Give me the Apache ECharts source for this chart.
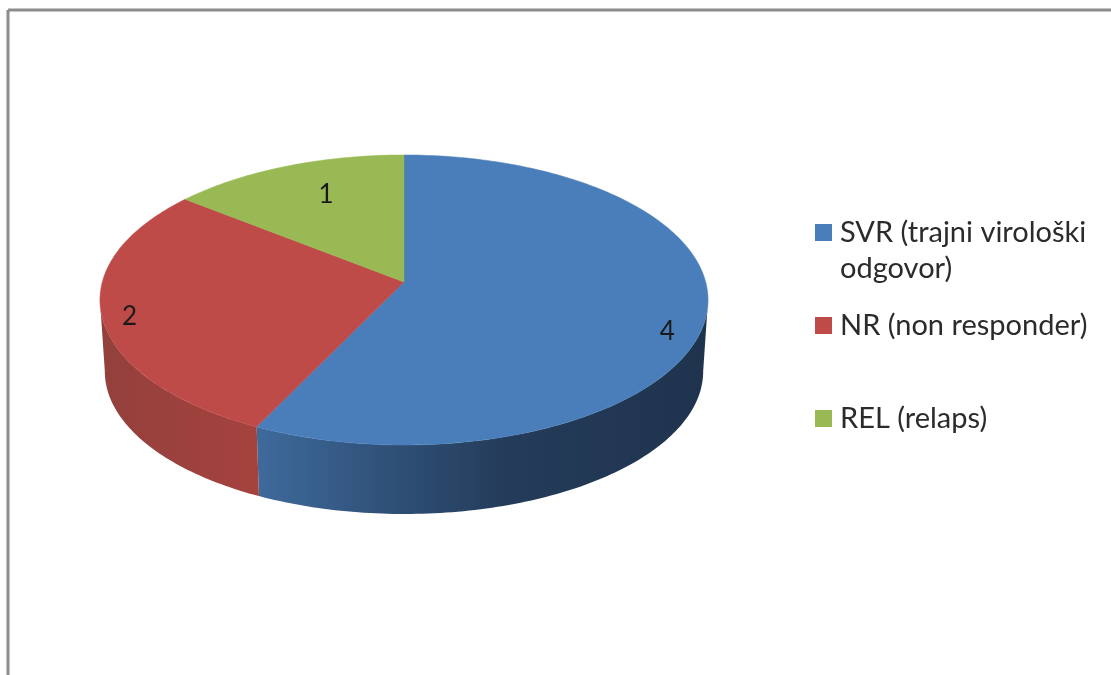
<!DOCTYPE html>
<html>
<head>
<meta charset="utf-8">
<style>
  html, body { margin: 0; background: #fff; }
  #chart { width: 1111px; height: 675px; }
</style>
<script src="https://cdn.jsdelivr.net/npm/echarts@6/dist/echarts.min.js"></script>
</head>
<body>
<div id="chart"></div>
<script>
var categories = ['SVR (trajni virološki odgovor)', 'NR (non responder)', 'REL (relaps)']
var sliceValues = [4, 2, 1]
var legendFirstLines = ['SVR (trajni virološki', 'NR (non responder)', 'REL (relaps)']
var legendSecondLine = 'odgovor)'

var topColors = ['#4a7ebb', '#be4b48', '#98b954']
var wallStops = [
  [{ offset: 0, color: '#3f6a9c' }, { offset: 0.3, color: '#2f5077' }, { offset: 0.55, color: '#243c5a' }, { offset: 1, color: '#1f334d' }],
  [{ offset: 0, color: '#93403c' }, { offset: 1, color: '#a5423e' }],
  [{ offset: 0, color: '#7d9a45' }, { offset: 1, color: '#7d9a45' }]
]
var legendTops = [218, 311, 404]
// where the value label sits: turn from top (deg) and share of the radius
var labelAngles = [111.6, 255, 337.2]
var labelRadius = [0.9, 0.914, 0.722]

// tilted disc, perspective from the front
var cx = 404
var cy = 282
var radiusX = 301.7
var radiusY = 142.8
var tilt = 0.124
var wallDrop = 71.6
var wallScale = 0.984

var total = sliceValues.reduce(function (a, b) { return a + b }, 0)
var sliceStarts = sliceValues.map(function (v, i) {
  return sliceValues.slice(0, i).reduce(function (a, b) { return a + b }, 0)
})

function project(deg, share) {
  var rad = deg * Math.PI / 180
  var u = Math.sin(rad) * share
  var v = -Math.cos(rad) * share
  var w = 1 - tilt * v
  return [cx + radiusX * u / w, cy + radiusY * v / w]
}

function arc(from, to) {
  var pts = []
  var steps = Math.max(2, Math.ceil(Math.abs(to - from)))
  for (var i = 0; i <= steps; i++) {
    pts.push(project(from + (to - from) * i / steps, 1))
  }
  return pts
}

function renderSlice(params, api) {
  var idx = params.seriesIndex
  var value = api.value(0)
  var from = api.value(1) / total * 360
  var to = from + value / total * 360
  var children = []

  // side wall only where the rim faces the viewer
  var edge = Math.acos(-tilt) * 180 / Math.PI
  var wallFrom = Math.max(from, edge)
  var wallTo = Math.min(to, 360 - edge)
  if (wallTo > wallFrom) {
    var rim = arc(wallFrom, wallTo)
    var lower = rim.map(function (p) {
      return [cx + (p[0] - cx) * wallScale, cy + wallDrop + (p[1] - cy) * wallScale]
    }).reverse()
    var xs = rim.map(function (p) { return p[0] })
    children.push({
      type: 'polygon',
      shape: { points: rim.concat(lower) },
      style: {
        fill: new echarts.graphic.LinearGradient(Math.min.apply(null, xs), 0, Math.max.apply(null, xs), 0, wallStops[idx], true)
      }
    })
  }

  children.push({
    type: 'polygon',
    shape: { points: [[cx, cy]].concat(arc(from, to)) },
    style: { fill: topColors[idx], stroke: topColors[idx], lineWidth: 0.5 }
  })

  var labelAt = project(labelAngles[idx], labelRadius[idx])
  children.push({
    type: 'text',
    x: labelAt[0],
    y: labelAt[1],
    style: {
      text: String(value),
      fill: '#1a1a1a',
      font: '26px Lato, "Noto Sans", sans-serif',
      align: 'center',
      verticalAlign: 'middle'
    }
  })
  return { type: 'group', children: children }
}

var chart = echarts.init(document.getElementById('chart'), null, { renderer: 'canvas' })
chart.setOption({
  animation: false,
  backgroundColor: '#fff',
  legend: categories.map(function (name, i) {
    return {
      data: [name],
      left: 815,
      top: legendTops[i],
      padding: 0,
      itemWidth: 17,
      itemHeight: 17,
      icon: 'rect',
      selectedMode: false,
      formatter: function () { return legendFirstLines[i] },
      textStyle: { color: '#2b2b2b', fontFamily: 'Lato, "Noto Sans", sans-serif', fontSize: 29, padding: [0, 0, 0, 3] }
    }
  }),
  graphic: [
    { type: 'line', shape: { x1: 8, y1: 10, x2: 1111, y2: 10 }, style: { stroke: '#8c8c8c', lineWidth: 3 } },
    { type: 'line', shape: { x1: 8, y1: 10, x2: 8, y2: 675 }, style: { stroke: '#8c8c8c', lineWidth: 3 } },
    {
      type: 'text',
      left: 840,
      top: 254,
      style: { text: legendSecondLine, fill: '#2b2b2b', font: '29px Lato, "Noto Sans", sans-serif' }
    }
  ],
  series: categories.map(function (name, i) {
    return {
      type: 'custom',
      name: name,
      coordinateSystem: 'none',
      silent: true,
      itemStyle: { color: topColors[i] },
      renderItem: renderSlice,
      data: [[sliceValues[i], sliceStarts[i]]]
    }
  })
})
</script>
</body>
</html>
